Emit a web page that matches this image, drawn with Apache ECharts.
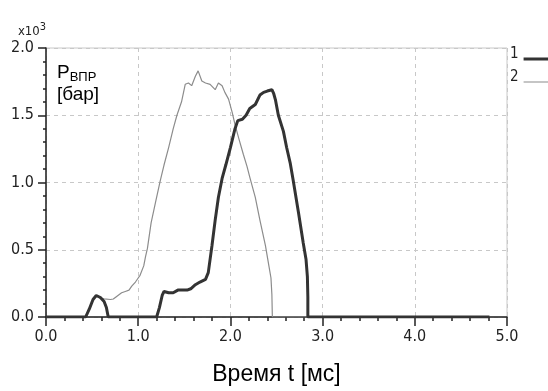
<!DOCTYPE html>
<html>
<head>
<meta charset="utf-8">
<script src="https://cdn.jsdelivr.net/npm/echarts@6/dist/echarts.min.js"></script>
<style>
html,body{margin:0;padding:0;background:#fff;}
#c{width:548px;height:391px;}
</style>
</head>
<body>
<div id="c"></div>
<script>
// Time axis ticks (ms) and pressure ticks (x10^3 bar)
var xTicks = [0, 1, 2, 3, 4, 5];
var yTicks = [0, 0.5, 1, 1.5, 2];
var seriesNames = ['1', '2'];

// Series 1 (thick): [t ms, P x10^3 bar]
var series1 = [
  [0, 0], [0.43, 0], [0.47, 0.06], [0.51, 0.13], [0.545, 0.16], [0.59, 0.145],
  [0.63, 0.115], [0.655, 0.07], [0.675, 0], [1.20, 0], [1.23, 0.07], [1.26, 0.16],
  [1.28, 0.19], [1.33, 0.18], [1.38, 0.18], [1.43, 0.20], [1.47, 0.20], [1.53, 0.20],
  [1.57, 0.21], [1.62, 0.24], [1.67, 0.26], [1.73, 0.28], [1.76, 0.33], [1.78, 0.43],
  [1.80, 0.53], [1.835, 0.72], [1.87, 0.89], [1.91, 1.03], [1.95, 1.13], [2.00, 1.26],
  [2.05, 1.40], [2.08, 1.46], [2.13, 1.47], [2.17, 1.50], [2.21, 1.55], [2.27, 1.58],
  [2.32, 1.65], [2.36, 1.67], [2.40, 1.68], [2.45, 1.69], [2.47, 1.66], [2.49, 1.61],
  [2.52, 1.50], [2.575, 1.38], [2.61, 1.26], [2.65, 1.14], [2.68, 1.02], [2.74, 0.77],
  [2.79, 0.55], [2.82, 0.43], [2.835, 0.30], [2.84, 0.15], [2.84, 0], [4.81, 0]
];

// Series 2 (thin)
var series2 = [
  [0, 0], [0.43, 0], [0.47, 0.06], [0.51, 0.13], [0.545, 0.16], [0.59, 0.14],
  [0.63, 0.135], [0.70, 0.13], [0.73, 0.134], [0.77, 0.155], [0.82, 0.18], [0.86, 0.19],
  [0.90, 0.20], [0.93, 0.23], [0.97, 0.26], [1.00, 0.29], [1.02, 0.31], [1.06, 0.38],
  [1.08, 0.45], [1.10, 0.51], [1.14, 0.70], [1.19, 0.86], [1.24, 1.015], [1.28, 1.13],
  [1.33, 1.26], [1.38, 1.40], [1.42, 1.50], [1.47, 1.60], [1.51, 1.73], [1.545, 1.74],
  [1.58, 1.72], [1.62, 1.79], [1.65, 1.83], [1.69, 1.755], [1.73, 1.74], [1.78, 1.73],
  [1.835, 1.69], [1.87, 1.74], [1.91, 1.72], [1.94, 1.67], [1.98, 1.62], [2.02, 1.52],
  [2.05, 1.43], [2.09, 1.33], [2.14, 1.21], [2.18, 1.12], [2.21, 1.04], [2.27, 0.89],
  [2.32, 0.72], [2.38, 0.53], [2.41, 0.41], [2.44, 0.29], [2.45, 0.165], [2.455, 0],
  [4.81, 0]
];

var narrow = "'Liberation Sans Narrow', 'DejaVu Sans Condensed', Arial, sans-serif";
var sans = "'Liberation Sans', Arial, sans-serif";

var legendText = {
  formatter: '{t|{name}}',
  textStyle: {rich: {t: {fontFamily: narrow, fontSize: 15, color: '#222', padding: [0, 0, 9, 0]}}}
};

var chart = echarts.init(document.getElementById('c'), null, {renderer: 'canvas'});
chart.setOption({
  backgroundColor: '#ffffff',
  animation: false,
  grid: {
    left: 46, right: 41, top: 48, bottom: 68,
    show: true, borderColor: '#c8c8c8', borderWidth: 1, backgroundColor: '#fff'
  },
  title: {
    left: 52, top: 57,
    text: '{p|P}{s|ВПР}\n{b|[бар]}',
    textStyle: {
      fontWeight: 'normal',
      rich: {
        p: {fontFamily: sans, fontSize: 19, fontWeight: 'normal', color: '#000', lineHeight: 22},
        s: {fontFamily: sans, fontSize: 13, fontWeight: 'normal', color: '#000', verticalAlign: 'bottom', lineHeight: 18},
        b: {fontFamily: sans, fontSize: 19, fontWeight: 'normal', color: '#000', lineHeight: 22}
      }
    }
  },
  legend: [
    Object.assign({
      data: [seriesNames[0]],
      left: 510, top: 47, padding: 0,
      icon: 'rect', itemWidth: 32, itemHeight: 3,
      align: 'right'
    }, legendText),
    Object.assign({
      data: [seriesNames[1]],
      left: 510, top: 70, padding: 0,
      icon: 'rect', itemWidth: 32, itemHeight: 1,
      align: 'right'
    }, legendText)
  ],
  xAxis: {
    type: 'value', min: xTicks[0], max: xTicks[xTicks.length - 1], interval: 1,
    name: 'Время t [мс]', nameLocation: 'middle', nameGap: 46,
    nameTextStyle: {fontFamily: sans, fontSize: 23, color: '#000'},
    axisLine: {show: true, onZero: false, lineStyle: {color: '#222', width: 1.5}},
    axisTick: {show: true, length: 9, lineStyle: {color: '#222', width: 1.5}},
    minorTick: {show: true, splitNumber: 5, length: 4, lineStyle: {color: '#222', width: 1.5}},
    axisLabel: {margin: 12, fontFamily: narrow, fontSize: 16, color: '#222',
      formatter: function (v) { return v.toFixed(1); }},
    splitLine: {show: true, lineStyle: {color: '#c8c8c8', type: [4, 4], width: 1}}
  },
  yAxis: {
    type: 'value', min: yTicks[0], max: yTicks[yTicks.length - 1], interval: 0.5,
    name: '{a|x10}{b|3}', nameLocation: 'end', nameGap: 7,
    nameTextStyle: {align: 'right', verticalAlign: 'bottom', padding: [0, 0, 0, 0],
      rich: {
        a: {fontFamily: narrow, fontSize: 13, color: '#222'},
        b: {fontFamily: narrow, fontSize: 11, color: '#222', verticalAlign: 'top', padding: [0, 0, 8, 0]}
      }},
    axisLine: {show: true, onZero: false, lineStyle: {color: '#222', width: 1.5}},
    axisTick: {show: true, length: 8, lineStyle: {color: '#222', width: 1.5}},
    minorTick: {show: true, splitNumber: 5, length: 3, lineStyle: {color: '#222', width: 1.5}},
    axisLabel: {margin: 12, fontFamily: narrow, fontSize: 16, color: '#222',
      formatter: function (v) { return v.toFixed(1); }},
    splitLine: {show: true, lineStyle: {color: '#c8c8c8', type: [4, 4], width: 1}}
  },
  series: [
    {
      name: seriesNames[0], type: 'line', data: series1, z: 4,
      showSymbol: false, symbol: 'none',
      lineStyle: {color: '#333333', width: 3},
      itemStyle: {color: '#333333'}
    },
    {
      name: seriesNames[1], type: 'line', data: series2, z: 3,
      showSymbol: false, symbol: 'none',
      lineStyle: {color: '#8c8c8c', width: 1.2},
      itemStyle: {color: '#8c8c8c'}
    }
  ]
});
</script>
</body>
</html>
